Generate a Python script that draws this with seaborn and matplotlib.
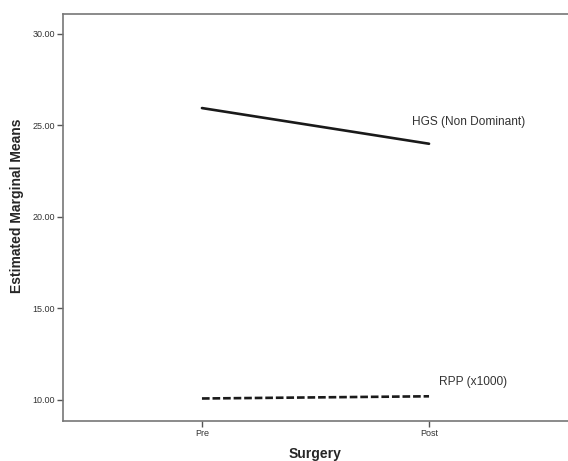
import matplotlib
matplotlib.use("Agg")
import matplotlib.pyplot as plt
import seaborn as sns
import pandas as pd

# Data
surgery = ["Pre", "Post"]
hgs_values = [25.95, 24.0]
rpp_values = [10.08, 10.2]
series_names = ["HGS (Non Dominant)", "RPP (x1000)"]
y_ticks = [10, 15, 20, 25, 30]

df = pd.DataFrame({
    "Surgery": surgery * 2,
    "Mean": hgs_values + rpp_values,
    "Measure": [series_names[0]] * 2 + [series_names[1]] * 2,
})
df["x"] = df["Surgery"].map({s: i for i, s in enumerate(surgery)})

sns.set_style("white")
plt.rcParams["font.family"] = ["Liberation Sans", "DejaVu Sans"]

fig = plt.figure(figsize=(5.68, 4.61), dpi=100)
ax = fig.add_axes([63 / 568, 1 - 421 / 461, (568 - 63) / 568, (421 - 14) / 461])

sns.lineplot(data=df, x="x", y="Mean", hue="Measure", style="Measure",
             palette=["#1a1a1a", "#1a1a1a"],
             dashes={series_names[0]: "", series_names[1]: (2.9, 1.1)},
             linewidth=1.9, legend=False, ax=ax)

# series labels next to the Post end
ax.text(0.925, hgs_values[1] + 1.0, series_names[0], fontsize=8.6, color="#333333")
ax.text(1.045, rpp_values[1] + 0.6, series_names[1], fontsize=8.6, color="#333333")

ax.set_xlim(-0.612, 1.612)
ax.set_ylim(8.85, 31.09)
ax.set_xticks(range(len(surgery)))
ax.set_xticklabels(surgery)
ax.set_yticks(y_ticks)
ax.set_yticklabels(["%.2f" % v for v in y_ticks])
ax.tick_params(axis="both", labelsize=6.5, labelcolor="#333333", color="#555555",
               length=4, width=1, direction="out", left=True, bottom=True, pad=2)

ax.set_xlabel("Surgery", fontsize=10, fontweight="bold", labelpad=6)
ax.set_ylabel("Estimated Marginal Means", fontsize=10, fontweight="bold", labelpad=6)
ax.yaxis.label.set_y(0.528)

for side in ["left", "top", "bottom"]:
    ax.spines[side].set_color("#777777")
    ax.spines[side].set_linewidth(1.2)
ax.spines["right"].set_visible(False)

fig.savefig("out.png", dpi=100)
